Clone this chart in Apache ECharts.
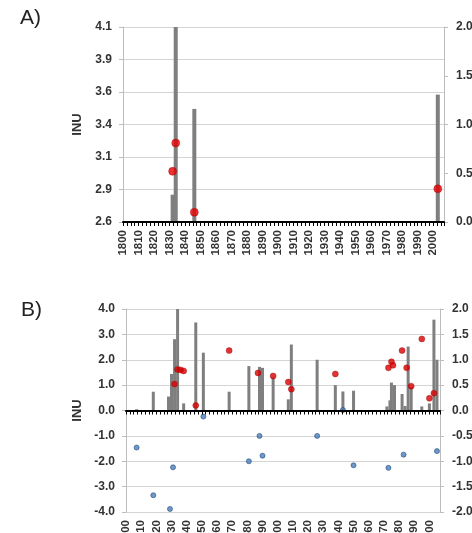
<!DOCTYPE html>
<html>
<head>
<meta charset="utf-8">
<script src="https://cdn.jsdelivr.net/npm/echarts@6/dist/echarts.min.js"></script>
<style>
  html, body { margin: 0; padding: 0; background: #fff; }
  #chart { width: 472px; height: 533px; }
</style>
</head>
<body>
<div id="chart"></div>
<script>
// INU bars (left axis)
const barYears  = [1807, 1818, 1828, 1830, 1832, 1834, 1838, 1846, 1851, 1868, 1881, 1888, 1890, 1897, 1907, 1909,
                   1926, 1938, 1943, 1950, 1972, 1974, 1975, 1977, 1982, 1984, 1986, 1988, 1995, 2000, 2003, 2005];
const barValues = [0.05, 0.74, 0.55, 1.44, 2.81, 4.13, 0.28, 3.47, 2.28, 0.74, 1.75, 1.72, 1.68, 1.3, 0.44, 2.6,
                   2.0, 1.0, 0.75, 0.78, 0.16, 0.4, 1.1, 1.0, 0.65, 0.18, 2.52, 0.93, 0.16, 0.28, 3.58, 2.0];

// red dots (right axis)
const redYears  = [1832, 1834, 1836, 1838, 1846, 1868, 1887, 1897, 1907, 1909, 1938, 1973, 1975, 1976, 1982, 1985,
                   1988, 1995, 2000, 2003];
const redValues = [0.52, 0.81, 0.8, 0.78, 0.1, 1.18, 0.74, 0.68, 0.56, 0.42, 0.72, 0.84, 0.96, 0.89, 1.18, 0.84,
                   0.48, 1.41, 0.24, 0.34];

// blue dots (right axis)
const blueYears  = [1807, 1818, 1829, 1831, 1851, 1881, 1888, 1890, 1926, 1943, 1950, 1973, 1983, 2005];
const blueValues = [-0.73, -1.67, -1.94, -1.12, -0.12, -1.0, -0.5, -0.89, -0.5, 0.01, -1.08, -1.13, -0.87, -0.8];

// panel A only shows the years whose INU is above the 2.6 threshold
const threshold = 2.6;

const pairs = (xs, ys) => xs.map((x, i) => [x, ys[i]]);
const bars = pairs(barYears, barValues);
const reds = pairs(redYears, redValues);
const blues = pairs(blueYears, blueValues);
const topYears = bars.filter(b => b[1] > threshold).map(b => b[0]);
const barsA = bars.filter(b => b[1] > threshold);
const redsA = reds.filter(r => topYears.includes(r[0]));

const fmt1 = v => (Math.round(v * 10 + (v >= 0 ? 1e-6 : -1e-6)) / 10).toFixed(1);
const labelFont = { color: '#333', fontWeight: 'bold', fontSize: 12, fontFamily: 'Liberation Sans' };
const gridLine = { show: true, lineStyle: { color: '#d4d4d4', width: 1 } };
const sideLine = { show: true, lineStyle: { color: '#bdbdbd', width: 1 } };
const sideTick = { show: true, length: 4, lineStyle: { color: '#bdbdbd' } };

function yearAxis(gridIndex, extra) {
  return Object.assign({
    type: 'value', gridIndex, position: 'bottom', min: 1800, max: 2007, interval: 10, z: 10,
    splitLine: { show: false },
    axisLine: { show: true, onZero: false, lineStyle: { color: '#000', width: 2 } },
    axisTick: { show: true, inside: false, length: 4, lineStyle: { color: '#000', width: 1 } },
    minorTick: { show: true, splitNumber: 4, length: 4, lineStyle: { color: '#000', width: 1 } },
    axisLabel: Object.assign({ rotate: 90, margin: 8, showMaxLabel: false, formatter: v => String(v) },
                             labelFont, { fontSize: 11.5 })
  }, extra);
}

const option = {
  animation: false,
  backgroundColor: '#fff',
  graphic: [
    { type: 'text', left: 20, top: 8, style: { text: 'A)', font: '21px Liberation Sans', fill: '#222' } },
    { type: 'text', left: 21, top: 300, style: { text: 'B)', font: '21px Liberation Sans', fill: '#222' } }
  ],
  grid: [
    { left: 123, top: 27, width: 321, height: 195, outerBoundsMode: 'none', containLabel: false },
    { left: 126, top: 309, width: 314, height: 203, outerBoundsMode: 'none', containLabel: false }
  ],
  xAxis: [
    yearAxis(0, {}),
    yearAxis(1, {
      axisLine: { show: true, onZero: true, onZeroAxisIndex: 2, lineStyle: { color: '#000', width: 2 } },
      axisLabel: { show: false }
    }),
    yearAxis(1, {
      axisLine: { show: false, onZero: false },
      axisTick: { show: false },
      minorTick: { show: false }
    })
  ],
  yAxis: [
    {
      type: 'value', gridIndex: 0, min: 2.6, max: 4.1, interval: 0.25,
      name: 'INU', nameLocation: 'middle', nameRotate: 90, nameGap: 38,
      nameTextStyle: Object.assign({}, labelFont, { fontSize: 13 }),
      axisLine: sideLine, axisTick: sideTick, splitLine: gridLine,
      axisLabel: Object.assign({ formatter: fmt1, margin: 11 }, labelFont)
    },
    {
      type: 'value', gridIndex: 0, position: 'right', min: 0, max: 2, interval: 0.5,
      axisLine: sideLine, axisTick: sideTick, splitLine: { show: false },
      axisLabel: Object.assign({ formatter: fmt1, margin: 12 }, labelFont)
    },
    {
      type: 'value', gridIndex: 1, min: -4, max: 4, interval: 1,
      name: 'INU', nameLocation: 'middle', nameRotate: 90, nameGap: 42,
      nameTextStyle: Object.assign({}, labelFont, { fontSize: 13 }),
      axisLine: sideLine, axisTick: sideTick, splitLine: gridLine,
      axisLabel: Object.assign({ formatter: fmt1, margin: 11 }, labelFont)
    },
    {
      type: 'value', gridIndex: 1, position: 'right', min: -2, max: 2, interval: 0.5,
      axisLine: sideLine, axisTick: sideTick, splitLine: { show: false },
      axisLabel: Object.assign({ formatter: fmt1, margin: 12 }, labelFont)
    }
  ],
  series: [
    {
      name: 'INU A', type: 'bar', xAxisIndex: 0, yAxisIndex: 0, barWidth: 4,
      itemStyle: { color: '#7f7f7f' }, data: barsA
    },
    {
      name: 'Red A', type: 'scatter', xAxisIndex: 0, yAxisIndex: 1, symbolSize: 8,
      itemStyle: { color: '#e60000', borderColor: '#a00000', borderWidth: 0.5 }, data: redsA
    },
    {
      name: 'INU B', type: 'bar', xAxisIndex: 1, yAxisIndex: 2, barWidth: 3,
      itemStyle: { color: '#7f7f7f' }, data: bars
    },
    {
      name: 'Red B', type: 'scatter', xAxisIndex: 1, yAxisIndex: 3, symbolSize: 6,
      itemStyle: { color: '#d90000', borderColor: '#a00000', borderWidth: 0.5 }, data: reds
    },
    {
      name: 'Blue B', type: 'scatter', xAxisIndex: 1, yAxisIndex: 3, symbolSize: 5,
      itemStyle: { color: '#4a7ebb', borderColor: '#25507f', borderWidth: 0.8 }, data: blues
    }
  ]
};

const chart = echarts.init(document.getElementById('chart'));
chart.setOption(option);
</script>
</body>
</html>
